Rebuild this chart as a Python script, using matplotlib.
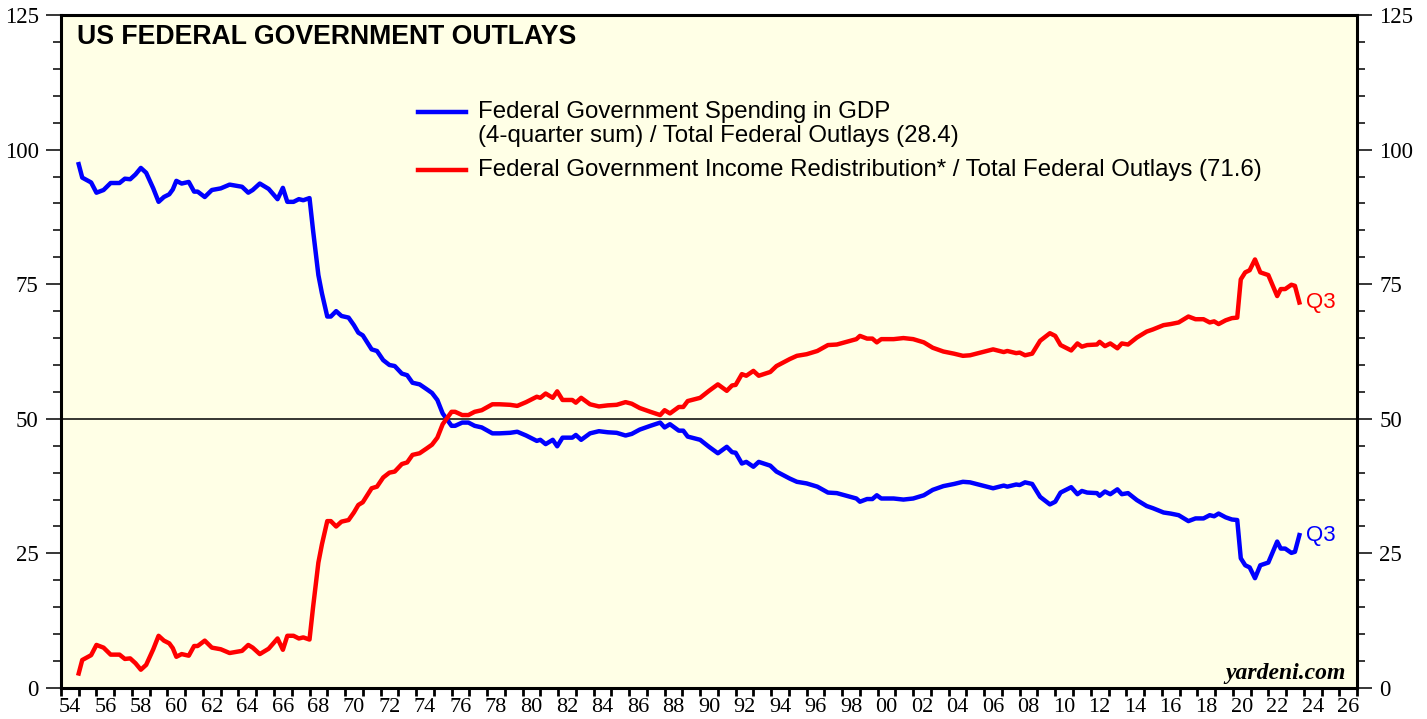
import numpy as np
import matplotlib.pyplot as plt
from matplotlib.lines import Line2D
from matplotlib.ticker import FixedLocator, MultipleLocator

# quarterly readings (year fraction), share of total federal outlays, %
years = [
    1955.0, 1955.2, 1955.7, 1956.0, 1956.4, 1956.8, 1957.3, 1957.6, 1957.9, 1958.2,
    1958.5, 1958.8, 1959.2, 1959.5, 1959.8, 1960.1, 1960.3, 1960.5, 1960.8, 1961.2,
    1961.5, 1961.7, 1962.1, 1962.5, 1963.0, 1963.5, 1964.2, 1964.55, 1964.8, 1965.2,
    1965.7, 1966.2, 1966.5, 1966.75, 1967.1, 1967.4, 1967.65, 1968.0, 1968.2, 1968.5,
    1968.7, 1969.0, 1969.2, 1969.5, 1969.8, 1970.2, 1970.5, 1970.75, 1971.0, 1971.5,
    1971.8, 1972.15, 1972.5, 1972.8, 1973.2, 1973.5, 1973.8, 1974.2, 1974.6, 1974.9,
    1975.2, 1975.5, 1976.0, 1976.2, 1976.6, 1976.95, 1977.3, 1977.7, 1978.3, 1978.7,
    1979.3, 1979.7, 1980.2, 1980.8, 1981.0, 1981.3, 1981.7, 1981.95, 1982.25, 1982.8,
    1983.0, 1983.3, 1983.8, 1984.3, 1984.8, 1985.3, 1985.8, 1986.15, 1986.6, 1987.2,
    1987.75, 1988.0, 1988.3, 1988.8, 1989.05, 1989.3, 1990.0, 1990.5, 1991.0, 1991.5,
    1991.8, 1992.0, 1992.35, 1992.6, 1993.0, 1993.3, 1993.95, 1994.3, 1995.05, 1995.45,
    1996.0, 1996.6, 1997.2, 1997.7, 1998.25, 1998.8, 1999.0, 1999.4, 1999.7, 1999.95,
    2000.2, 2000.9, 2001.45, 2002.0, 2002.6, 2003.1, 2003.7, 2004.3, 2004.8, 2005.2,
    2005.8, 2006.5, 2007.1, 2007.3, 2007.8, 2008.0, 2008.3, 2008.7, 2009.15, 2009.7,
    2010.0, 2010.3, 2010.9, 2011.25, 2011.5, 2011.8, 2012.35, 2012.5, 2012.8, 2013.1,
    2013.5, 2013.75, 2014.1, 2014.6, 2015.15, 2015.5, 2016.1, 2016.5, 2016.95, 2017.5,
    2017.9, 2018.35, 2018.7, 2018.95, 2019.2, 2019.6, 2019.95, 2020.25, 2020.45, 2020.7,
    2020.95, 2021.25, 2021.55, 2022.0, 2022.5, 2022.7, 2022.95, 2023.3, 2023.5, 2023.75,
]

spending = [
    97.3, 94.8, 93.9, 92.0, 92.5, 93.8, 93.8, 94.6, 94.5, 95.4,
    96.6, 95.7, 92.8, 90.3, 91.2, 91.7, 92.6, 94.2, 93.7, 94.0,
    92.2, 92.2, 91.2, 92.5, 92.8, 93.5, 93.1, 92.0, 92.5, 93.7,
    92.7, 90.8, 92.9, 90.3, 90.3, 90.8, 90.6, 91.0, 85.0, 76.7,
    73.3, 69.0, 69.0, 70.0, 69.1, 68.8, 67.4, 66.0, 65.5, 62.9,
    62.6, 60.9, 60.0, 59.8, 58.4, 58.1, 56.7, 56.4, 55.5, 54.8,
    53.5, 51.0, 48.7, 48.7, 49.3, 49.3, 48.7, 48.4, 47.3, 47.3,
    47.4, 47.6, 46.9, 45.9, 46.1, 45.3, 46.1, 44.9, 46.5, 46.5,
    47.0, 46.1, 47.3, 47.7, 47.5, 47.4, 46.9, 47.2, 48.0, 48.7,
    49.3, 48.4, 49.0, 47.8, 47.8, 46.7, 46.1, 44.8, 43.6, 44.8,
    43.8, 43.7, 41.7, 42.0, 41.1, 42.0, 41.3, 40.2, 38.9, 38.3,
    38.0, 37.4, 36.3, 36.2, 35.7, 35.2, 34.6, 35.1, 35.1, 35.8,
    35.2, 35.2, 35.0, 35.2, 35.8, 36.8, 37.5, 37.9, 38.3, 38.2,
    37.7, 37.1, 37.6, 37.4, 37.8, 37.7, 38.2, 37.9, 35.5, 34.1,
    34.6, 36.3, 37.3, 36.0, 36.6, 36.3, 36.2, 35.7, 36.5, 36.0,
    36.9, 36.0, 36.2, 34.9, 33.8, 33.4, 32.6, 32.4, 32.1, 31.0,
    31.5, 31.5, 32.1, 31.9, 32.4, 31.7, 31.3, 31.2, 24.1, 22.8,
    22.4, 20.4, 22.8, 23.3, 27.2, 25.9, 25.9, 25.1, 25.3, 28.4,
]

redistribution = [
    2.7, 5.2, 6.1, 8.0, 7.5, 6.2, 6.2, 5.4, 5.5, 4.6,
    3.4, 4.3, 7.2, 9.7, 8.8, 8.3, 7.4, 5.8, 6.3, 6.0,
    7.8, 7.8, 8.8, 7.5, 7.2, 6.5, 6.9, 8.0, 7.5, 6.3,
    7.3, 9.2, 7.1, 9.7, 9.7, 9.2, 9.4, 9.0, 15.0, 23.3,
    26.7, 31.0, 31.0, 30.0, 30.9, 31.2, 32.6, 34.0, 34.5, 37.1,
    37.4, 39.1, 40.0, 40.2, 41.6, 41.9, 43.3, 43.6, 44.5, 45.2,
    46.5, 49.0, 51.3, 51.3, 50.7, 50.7, 51.3, 51.6, 52.7, 52.7,
    52.6, 52.4, 53.1, 54.1, 53.9, 54.7, 53.9, 55.1, 53.5, 53.5,
    53.0, 53.9, 52.7, 52.3, 52.5, 52.6, 53.1, 52.8, 52.0, 51.3,
    50.7, 51.6, 51.0, 52.2, 52.2, 53.3, 53.9, 55.2, 56.4, 55.2,
    56.2, 56.3, 58.3, 58.0, 58.9, 58.0, 58.7, 59.8, 61.1, 61.7,
    62.0, 62.6, 63.7, 63.8, 64.3, 64.8, 65.4, 64.9, 64.9, 64.2,
    64.8, 64.8, 65.0, 64.8, 64.2, 63.2, 62.5, 62.1, 61.7, 61.8,
    62.3, 62.9, 62.4, 62.6, 62.2, 62.3, 61.8, 62.1, 64.5, 65.9,
    65.4, 63.7, 62.7, 64.0, 63.4, 63.7, 63.8, 64.3, 63.5, 64.0,
    63.1, 64.0, 63.8, 65.1, 66.2, 66.6, 67.4, 67.6, 67.9, 69.0,
    68.5, 68.5, 67.9, 68.1, 67.6, 68.3, 68.7, 68.8, 75.9, 77.2,
    77.6, 79.6, 77.2, 76.7, 72.8, 74.1, 74.1, 74.9, 74.7, 71.6,
]

label_years = list(range(1954, 2027, 2))
year_labels = ['%02d' % (y % 100) for y in label_years]

title = 'US FEDERAL GOVERNMENT OUTLAYS'
spend_label = ['Federal Government Spending in GDP',
               '(4-quarter sum) / Total Federal Outlays (28.4)']
redis_label = 'Federal Government Income Redistribution* / Total Federal Outlays (71.6)'

BLUE = '#0000ff'
RED = '#ff0000'
SANS = 'Liberation Sans'
SERIF = 'Liberation Serif'

fig = plt.figure(figsize=(14.27, 7.19), dpi=100)
ax = fig.add_axes([0.0427, 0.0431, 0.9083, 0.936])
ax.set_facecolor('#ffffe6')

ax.plot(years, spending, color=BLUE, lw=3.2, solid_joinstyle='round', zorder=3)
ax.plot(years, redistribution, color=RED, lw=3.2, solid_joinstyle='round', zorder=3)
ax.axhline(50, color='black', lw=1.1, zorder=2)

ax.set_xlim(1954, 2027)
ax.set_ylim(0, 125)

# x axis: a tick every year, labels centred between ticks
ax.xaxis.set_major_locator(MultipleLocator(1))
ax.xaxis.set_major_formatter(plt.NullFormatter())
ax.xaxis.set_minor_locator(FixedLocator([y + 0.5 for y in label_years]))
ax.set_xticklabels(year_labels, minor=True)
ax.tick_params(axis='x', which='major', direction='out', length=6, width=2)
ax.tick_params(axis='x', which='minor', length=0, pad=7, labelsize=16,
               labelfontfamily=SERIF)

# y axis on both sides
ax.yaxis.set_major_locator(MultipleLocator(25))
ax.yaxis.set_minor_locator(MultipleLocator(5))
ax.tick_params(axis='y', which='major', direction='out', length=11, width=1.1,
               left=True, right=True, labelleft=True, labelright=True,
               labelsize=16.5, pad=5, labelfontfamily=SERIF)
ax.tick_params(axis='y', which='minor', direction='out', length=5.5, width=1.1,
               left=True, right=True)

for s in ax.spines.values():
    s.set_linewidth(2.2)

ax.text(0.0123, 0.967, title, transform=ax.transAxes, fontsize=19.2,
        fontweight='bold', family=SANS, va='center', ha='left')

# legend drawn by hand so the blue key sits on the first text line
key_x = [0.2755, 0.3125]
for yy, col in [(0.856, BLUE), (0.7697, RED)]:
    ax.add_line(Line2D(key_x, [yy, yy], transform=ax.transAxes, color=col, lw=3.2))
ax.text(0.3218, 0.856, spend_label[0], transform=ax.transAxes, fontsize=17.3,
        family=SANS, va='center', ha='left')
ax.text(0.3218, 0.8200, spend_label[1], transform=ax.transAxes, fontsize=17.3,
        family=SANS, va='center', ha='left')
ax.text(0.3218, 0.7697, redis_label, transform=ax.transAxes, fontsize=17.3,
        family=SANS, va='center', ha='left')

ax.annotate('Q3', (years[-1], redistribution[-1]), xytext=(5, 0),
            textcoords='offset points', color=RED, fontsize=16, family=SANS,
            va='center', ha='left')
ax.annotate('Q3', (years[-1], spending[-1]), xytext=(5, 0),
            textcoords='offset points', color=BLUE, fontsize=16, family=SANS,
            va='center', ha='left')

ax.text(0.9915, 0.014, 'yardeni.com', transform=ax.transAxes, fontsize=17,
        family=SERIF, fontweight='bold', fontstyle='italic', ha='right',
        va='baseline')

fig.savefig('out.png', dpi=100, facecolor='white')
